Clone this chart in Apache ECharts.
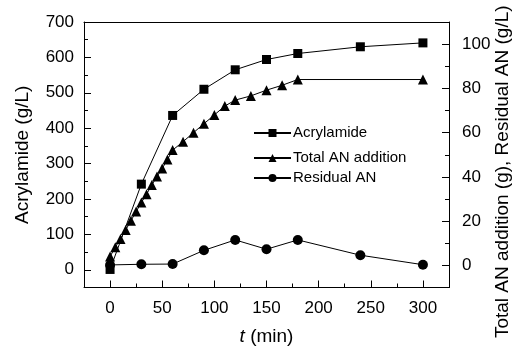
<!DOCTYPE html>
<html><head><meta charset="utf-8">
<script src="https://cdn.jsdelivr.net/npm/echarts@6/dist/echarts.min.js"></script>
<style>html,body{margin:0;padding:0;background:#fff}#c{width:523px;height:351px}</style>
</head><body><div id="c"></div>
<script>
// ---- data ----
const acrylTime = [0, 30, 60, 90, 120, 150, 180, 240, 300];
const acrylamide = [1, 242, 436, 510, 565, 594, 611, 630, 641];
const totalTime = [0, 5, 10, 15, 20, 25, 30, 35, 40, 45, 50, 55, 60, 70, 80, 90, 100, 110, 120, 135, 150, 165, 180, 300];
const totalAN = [4, 8.2, 11.9, 16, 20.2, 24.3, 28.4, 32.2, 36.3, 40.2, 43.8, 47.8, 52.1, 55.9, 60, 64, 68, 72, 74.7, 76.6, 79.2, 81.4, 84, 84];
const residualTime = [0, 30, 60, 90, 120, 150, 180, 240, 300];
const residualAN = [0.2, 0.5, 0.6, 6.8, 11.5, 7.3, 11.5, 4.6, 0.3];
const xTickLabels = [0, 50, 100, 150, 200, 250, 300];
const leftTickLabels = [0, 100, 200, 300, 400, 500, 600, 700];
const rightTickLabels = [0, 20, 40, 60, 80, 100];

const FONT = '"Liberation Sans", Arial, sans-serif';
const pair = (xs, ys) => xs.map((x, i) => [x, ys[i]]);
const gridRect = {left: 84, right: 74, top: 22, bottom: 63.5, outerBoundsMode: 'none', containLabel: false};
const line = {show: true, onZero: false, lineStyle: {color: '#000', width: 1}};
const noLine = {show: false, onZero: false};
const lbl = (vals, margin) => ({
  show: true, margin: margin, fontSize: 17, fontFamily: FONT, color: '#000',
  customValues: vals,
  formatter: v => (vals.indexOf(Number(v)) >= 0 ? String(v) : '')
});
const majorTick = vals => ({show: true, inside: true, length: 7, customValues: vals, lineStyle: {color: '#000', width: 1}});
const minorTick = {show: true, inside: true, length: 4, lineStyle: {color: '#000', width: 1}};
const nameStyle = {fontSize: 19, fontFamily: FONT, color: '#000'};

const chart = echarts.init(document.getElementById('c'));
chart.setOption({
  animation: false,
  backgroundColor: '#fff',
  grid: [Object.assign({}, gridRect), Object.assign({}, gridRect)],
  xAxis: [
    {type: 'value', gridIndex: 0, position: 'bottom', min: -25, max: 325, interval: 25,
     axisLine: line, axisTick: majorTick(xTickLabels), axisLabel: lbl(xTickLabels, 12), splitLine: {show: false},
     name: '{i|t} (min)', nameLocation: 'middle', nameGap: 40,
     nameTextStyle: Object.assign({}, nameStyle, {rich: {i: {fontStyle: 'italic', fontSize: 19, fontFamily: FONT, color: '#000'}}})},
    {type: 'value', gridIndex: 0, position: 'top', min: -25, max: 325, interval: 25,
     axisLine: line, axisTick: {show: false}, axisLabel: {show: false}, splitLine: {show: false}},
    {type: 'value', gridIndex: 1, position: 'bottom', min: -25, max: 325, interval: 25,
     axisLine: noLine, axisTick: minorTick, axisLabel: {show: false}, splitLine: {show: false}}
  ],
  yAxis: [
    {type: 'value', gridIndex: 0, position: 'left', min: -50, max: 700, interval: 50,
     axisLine: line, axisTick: majorTick(leftTickLabels), axisLabel: lbl(leftTickLabels, 10), splitLine: {show: false},
     name: 'Acrylamide (g/L)', nameLocation: 'middle', nameGap: 52, nameTextStyle: nameStyle},
    {type: 'value', gridIndex: 0, position: 'right', min: -10, max: 110, interval: 10,
     axisLine: line, axisTick: majorTick(rightTickLabels), axisLabel: lbl(rightTickLabels, 13), splitLine: {show: false},
     name: 'Total AN addition (g), Residual AN (g/L)', nameLocation: 'middle', nameGap: 44, nameMoveOverlap: false,
     nameTextStyle: Object.assign({}, nameStyle, {padding: [0, 34, 0, 0]})},
    {type: 'value', gridIndex: 1, position: 'left', min: -50, max: 700, interval: 50,
     axisLine: noLine, axisTick: minorTick, axisLabel: {show: false}, splitLine: {show: false}},
    {type: 'value', gridIndex: 1, position: 'right', min: -10, max: 110, interval: 10,
     axisLine: noLine, axisTick: minorTick, axisLabel: {show: false}, splitLine: {show: false}}
  ],
  legend: [
    {data: ['Acrylamide'], left: 253, top: 124},
    {data: ['Total AN addition'], left: 253, top: 149},
    {data: ['Residual AN'], left: 253, top: 169}
  ].map(l => Object.assign(l, {
    orient: 'vertical', padding: 0, itemWidth: 37, itemHeight: 10,
    textStyle: {fontSize: 15, fontFamily: FONT, color: '#000', lineHeight: 18, padding: [0, 0, 0, -3]}
  })),
  series: [
    {name: 'Residual AN', type: 'line', xAxisIndex: 0, yAxisIndex: 1, data: pair(residualTime, residualAN),
     symbol: 'circle', symbolSize: 10, z: 2,
     itemStyle: {color: '#000'}, lineStyle: {color: '#000', width: 1}},
    {name: 'Total AN addition', type: 'line', xAxisIndex: 0, yAxisIndex: 1, data: pair(totalTime, totalAN),
     symbol: 'triangle', symbolSize: 10, z: 3,
     itemStyle: {color: '#000'}, lineStyle: {color: '#000', width: 1}},
    {name: 'Acrylamide', type: 'line', xAxisIndex: 0, yAxisIndex: 0, data: pair(acrylTime, acrylamide),
     symbol: 'rect', symbolSize: 9, z: 4,
     itemStyle: {color: '#000'}, lineStyle: {color: '#000', width: 1}}
  ]
});
</script></body></html>
